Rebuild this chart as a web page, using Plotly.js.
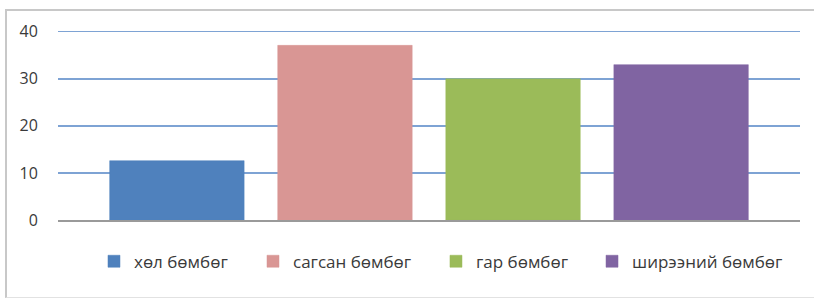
<!DOCTYPE html>
<html>
<head>
<meta charset="utf-8">
<script src="https://cdn.plot.ly/plotly-3.0.1.min.js"></script>
<style>
html,body{margin:0;padding:0;background:#fff;overflow:hidden;}
#frame{position:absolute;left:5px;top:9px;width:820px;height:286px;border-left:2px solid #c8c8c8;border-top:2px solid #c8c8c8;border-bottom:1px solid #e2e2e2;}
#chart{position:absolute;left:0;top:0;width:814px;height:298px;}
</style>
</head>
<body>
<div id="frame"></div>
<div id="chart"></div>
<script>
const categories = ["хөл бөмбөг", "сагсан бөмбөг", "гар бөмбөг", "ширээний бөмбөг"];
const values = [12.6, 37.1, 30, 33];
const colors = ["#4f81bd", "#d99694", "#9bbb59", "#8064a2"];
const tickValues = [0, 10, 20, 30, 40];
const legendX = [0.0485, 0.2628, 0.5094, 0.7197];

const legendIds = ['legend', 'legend2', 'legend3', 'legend4'];

const traces = categories.map((name, i) => ({
  type: 'bar',
  name: name,
  x: [''],
  y: [values[i]],
  legend: legendIds[i],
  marker: {color: colors[i], line: {color: colors[i], width: 0.5}},
  hoverinfo: 'skip'
}));

const layout = {
  width: 814, height: 298,
  margin: {l: 58, r: 14, t: 27, b: 78},
  paper_bgcolor: 'rgba(0,0,0,0)',
  plot_bgcolor: 'rgba(0,0,0,0)',
  barmode: 'group',
  bargap: 0.094,
  bargroupgap: 0.2,
  font: {family: 'Open Sans, DejaVu Sans, sans-serif', size: 16, color: '#3a3a3a'},
  showlegend: true,
  xaxis: {showticklabels: false, showgrid: false, zeroline: false, showline: true, linecolor: '#9a9a9a', linewidth: 1.5, fixedrange: true},
  yaxis: {
    range: [0, 41], tickvals: tickValues, ticktext: tickValues.map(String),
    showgrid: true, gridcolor: '#7ea3d4', gridwidth: 1.5,
    zeroline: false, showline: false,
    ticks: 'outside', ticklen: 16, tickcolor: 'rgba(0,0,0,0)',
    tickfont: {size: 16, color: '#3a3a3a'}, fixedrange: true
  }
};

legendIds.forEach((id, i) => {
  layout[id] = {
    orientation: 'h', x: legendX[i], xanchor: 'left', y: -0.216, yanchor: 'middle',
    font: {size: 17, color: '#3a3a3a'}, itemwidth: 30,
    bgcolor: 'rgba(0,0,0,0)', borderwidth: 0
  };
});

Plotly.newPlot('chart', traces, layout, {displayModeBar: false, staticPlot: true});
</script>
</body>
</html>
